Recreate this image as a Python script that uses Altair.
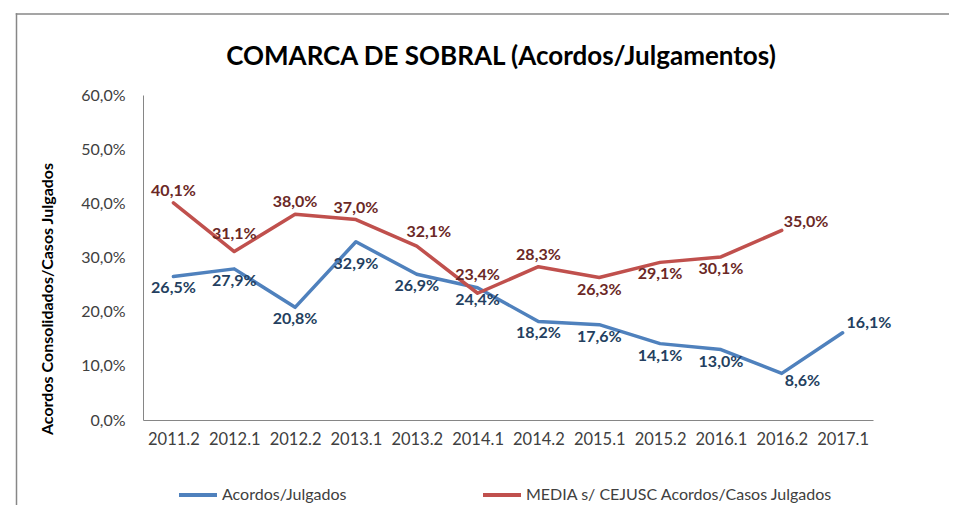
import altair as alt
import pandas as pd

# ---- data ----
periods = ["2011.2", "2012.1", "2012.2", "2013.1", "2013.2", "2014.1",
           "2014.2", "2015.1", "2015.2", "2016.1", "2016.2", "2017.1"]
acordos = [26.5, 27.9, 20.8, 32.9, 26.9, 24.4, 18.2, 17.6, 14.1, 13.0, 8.6, 16.1]
media = [40.1, 31.1, 38.0, 37.0, 32.1, 23.4, 28.3, 26.3, 29.1, 30.1, 35.0, None]
series_names = ["Acordos/Julgados", "MEDIA s/ CEJUSC Acordos/Casos Julgados"]
y_ticks = [0.0, 0.1, 0.2, 0.3, 0.4, 0.5, 0.6]
title_text = "COMARCA DE SOBRAL (Acordos/Julgamentos)"
y_title_text = "Acordos Consolidados/Casos Julgados"

line_colors = ["#4F81BD", "#C0504D"]
label_colors = ["#243F60", "#6B2826"]
FONT = "Lato"

# label placement (annotation layout, not data)
default_place = {series_names[0]: "below", series_names[1]: "above"}
special_place = {
    (series_names[0], "2013.1"): "below_far",
    (series_names[0], "2016.2"): "right_down",
    (series_names[0], "2017.1"): "right_up",
    (series_names[1], "2012.1"): "above_far",
    (series_names[1], "2014.1"): "above_far",
    (series_names[1], "2013.2"): "above_shift",
    (series_names[1], "2015.1"): "below",
    (series_names[1], "2015.2"): "below",
    (series_names[1], "2016.1"): "below",
    (series_names[1], "2016.2"): "right",
}
place_styles = {
    "below": dict(align="center", dx=0, dy=12),
    "below_far": dict(align="center", dx=0, dy=22),
    "above": dict(align="center", dx=0, dy=-12),
    "above_far": dict(align="center", dx=0, dy=-18),
    "above_shift": dict(align="center", dx=12, dy=-14),
    "right_down": dict(align="left", dx=3, dy=8),
    "right_up": dict(align="left", dx=4, dy=-10),
    "right": dict(align="left", dx=2, dy=-8),
}

rows = []
for p, a, m in zip(periods, acordos, media):
    for s, v in ((series_names[0], a), (series_names[1], m)):
        if v is None:
            continue
        rows.append(dict(
            period=p, series=s, value=v / 100.0,
            label=f"{v:.1f}".replace(".", ",") + "%",
            place=special_place.get((s, p), default_place[s]),
        ))
df = pd.DataFrame(rows)

W, H = 730, 325
PAD = {"left": 135, "top": 87, "right": 76, "bottom": 85}

x_enc = alt.X("period:O", sort=periods,
              scale=alt.Scale(padding=0.5),
              axis=alt.Axis(title=None, labelAngle=0, labelFont=FONT, labelFontSize=16.5,
                            labelColor="#404040", labelPadding=11, ticks=False,
                            domainColor="#868686", domainWidth=1, grid=False))
y_enc = alt.Y("value:Q",
              scale=alt.Scale(domain=[0, 0.6], nice=False),
              axis=alt.Axis(title=None, values=y_ticks,
                            labelExpr="replace(format(datum.value, '.1%'), '.', ',')",
                            labelFont=FONT, labelFontSize=16, labelColor="#404040",
                            labelPadding=18, ticks=False, grid=False,
                            domainColor="#868686", domainWidth=1))

base = alt.Chart(df)

lines = base.mark_line(strokeWidth=3.5, strokeCap="round", strokeJoin="round").encode(
    x=x_enc, y=y_enc,
    color=alt.Color("series:N", sort=series_names,
                    scale=alt.Scale(domain=series_names, range=line_colors),
                    legend=alt.Legend(title=None, orient="none", legendX=34, legendY=379,
                                      direction="horizontal", symbolType="stroke",
                                      symbolSize=1444, symbolStrokeWidth=4,
                                      labelFont=FONT, labelFontSize=16, labelLimit=500,
                                      labelColor="#404040", labelOffset=3,
                                      columnPadding=128)),
)

label_color = alt.condition(alt.datum.series == series_names[0],
                            alt.value(label_colors[0]), alt.value(label_colors[1]))

label_layers = []
for name, st in place_styles.items():
    label_layers.append(
        base.transform_filter(alt.datum.place == name)
        .mark_text(font=FONT, fontSize=16, fontWeight="bold", baseline="middle",
                   align=st["align"], dx=st["dx"], dy=st["dy"])
        .encode(x=alt.X("period:O", sort=periods), y="value:Q", text="label:N",
                color=label_color)
    )

one = pd.DataFrame({"t": [0]})
title_mark = alt.Chart(pd.DataFrame({"t": [title_text]})).mark_text(
    font=FONT, fontSize=26, fontWeight="bold", color="#000000",
    align="center", baseline="alphabetic").encode(
    text="t:N", x=alt.value(358), y=alt.value(-30))

ytitle_mark = alt.Chart(pd.DataFrame({"t": [y_title_text]})).mark_text(
    font=FONT, fontSize=16, fontWeight="bold", color="#000000", angle=270,
    align="center", baseline="middle").encode(
    text="t:N", x=alt.value(-95), y=alt.value(204))

# outer frame drawn as two thin filled bars (top and left edges)
frame_top = alt.Chart(one).mark_rect(color="#878787", strokeWidth=0).encode(
    x=alt.value(-127.25), x2=alt.value(W + PAD["right"]),
    y=alt.value(-81.75), y2=alt.value(-80.25))
frame_left = alt.Chart(one).mark_rect(color="#878787", strokeWidth=0).encode(
    x=alt.value(-127.25), x2=alt.value(-125.75),
    y=alt.value(-81.75), y2=alt.value(H + PAD["bottom"]))

chart = alt.layer(frame_top, frame_left, lines, *label_layers, title_mark, ytitle_mark).properties(
    width=W, height=H, padding=PAD, autosize=alt.AutoSizeParams(type="none"),
).configure_view(stroke=None)

chart.save("out.html", embed_options={"renderer": "svg", "actions": False})
